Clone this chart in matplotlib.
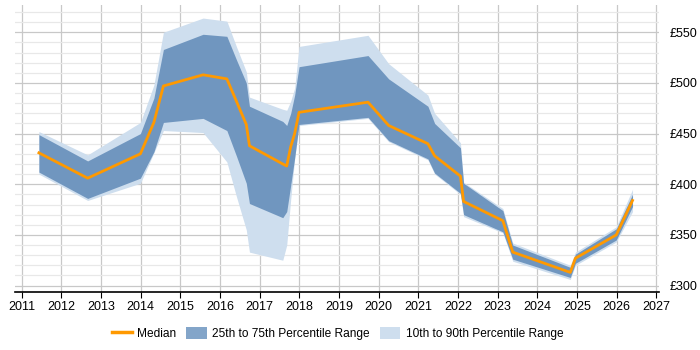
import matplotlib
matplotlib.use("Agg")
import matplotlib.pyplot as plt
from matplotlib.patches import Patch
from matplotlib.lines import Line2D
from matplotlib.ticker import MultipleLocator, FuncFormatter

plt.rcParams['font.family'] = ['Liberation Sans', 'DejaVu Sans']

# sample dates (decimal years) shared by every series
years = [2011.43, 2012.66, 2013.99, 2014.33, 2014.57, 2015.57, 2016.17, 2016.41,
         2016.66, 2016.74, 2017.58, 2017.68, 2017.78, 2017.88, 2017.99, 2019.73,
         2020.25, 2021.24, 2021.41, 2022.06, 2022.14, 2023.13, 2023.38, 2024.83,
         2024.96, 2025.99, 2026.40]

p90 = [452, 429, 461, 498, 550, 564, 561, 536, 511, 486, 474, 473, 482, 495, 536,
       547, 519, 488, 470, 441, 402, 376, 342, 320, 333, 358, 395]
p75 = [449, 423, 450, 485, 533, 548, 546, 523, 500, 477, 462, 458, 470, 488, 516,
       527, 504, 477, 460, 436, 401, 374, 340, 318, 331, 356, 390]
median = [431, 406, 430, 461, 497, 508, 504, 482, 459, 438, 420, 418, 437, 450, 471,
          481, 458, 440, 428, 408, 383, 364, 333, 313, 327, 350, 384]
p25 = [412, 386, 406, 432, 461, 465, 453, 428, 401, 381, 367, 373, 399, 426, 459,
       466, 443, 425, 411, 391, 370, 353, 326, 308, 322, 345, 378]
p10 = [410, 384, 401, 431, 453, 451, 422, 388, 355, 333, 325, 340, 385, 425, 458,
       465, 442, 424, 410, 390, 368, 352, 324, 306, 320, 343, 373]

orange = '#ff9900'
dark = '#7096bf'
light = '#cedeee'

fig = plt.figure(figsize=(7, 3.5), dpi=100)
ax = fig.add_axes([0.021, 0.165, 0.92, 0.821])

ax.fill_between(years, p10, p90, color=light, linewidth=0, zorder=2)
ax.fill_between(years, p25, p75, color=dark, linewidth=0, zorder=3)
ax.plot(years, median, color=orange, linewidth=2, zorder=4)

ax.set_xlim(2010.82, 2027.06)
ax.set_ylim(293.4, 577)
ax.xaxis.set_major_locator(MultipleLocator(1))
ax.yaxis.set_major_locator(MultipleLocator(50))
ax.yaxis.set_minor_locator(MultipleLocator(10))
ax.xaxis.set_major_formatter(FuncFormatter(lambda v, p: '%d' % v))
ax.yaxis.set_major_formatter(FuncFormatter(lambda v, p: '£%d' % v))

ax.grid(which='major', color='#c8c8c8', linewidth=0.9, zorder=0)
ax.grid(which='minor', axis='y', color='#e8e8e8', linewidth=0.9, zorder=0)
ax.set_axisbelow(True)

for side in ['left', 'top', 'right']:
    ax.spines[side].set_visible(False)
ax.spines['bottom'].set_color('black')
ax.spines['bottom'].set_linewidth(1.2)

ax.yaxis.tick_right()
ax.tick_params(axis='y', which='both', length=0, labelsize=9, pad=8)
ax.tick_params(axis='x', length=4, labelsize=9, pad=2)

handles = [
    Line2D([0], [0], color=orange, linewidth=2.5),
    Patch(facecolor='#83a5c9', edgecolor='none'),
    Patch(facecolor=light, edgecolor='none'),
]
labels = ['Median', '25th to 75th Percentile Range', '10th to 90th Percentile Range']
fig.legend(handles, labels, loc='center', bbox_to_anchor=(0.482, 0.048), ncol=3,
           frameon=False, fontsize=8.6, handlelength=1.7, handleheight=1.2,
           handletextpad=0.45, columnspacing=0.85)

fig.savefig('out.png', dpi=100)
